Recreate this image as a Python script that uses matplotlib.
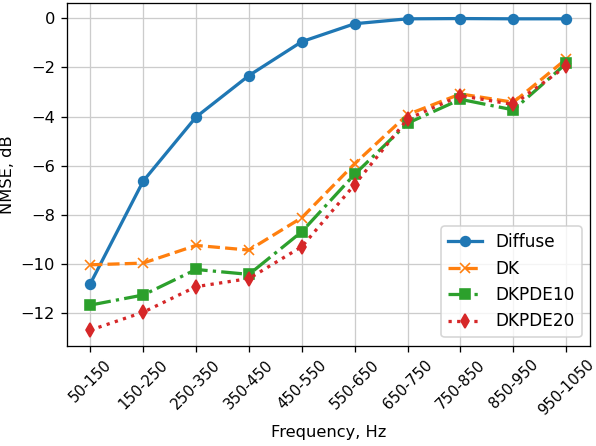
#!/usr/bin/env python3
import numpy as np
import matplotlib
matplotlib.use("Agg")
import matplotlib.pyplot as plt

bands = ["50-150", "150-250", "250-350", "350-450", "450-550",
         "550-650", "650-750", "750-850", "850-950", "950-1050"]

diffuse = [-10.81, -6.63, -4.02, -2.33, -0.95, -0.22, -0.02, -0.01, -0.02, -0.02]
dk = [-10.04, -9.97, -9.25, -9.44, -8.12, -5.92, -3.92, -3.08, -3.42, -1.66]
dkpde10 = [-11.68, -11.27, -10.23, -10.43, -8.69, -6.35, -4.27, -3.30, -3.73, -1.84]
dkpde20 = [-12.70, -11.97, -10.93, -10.60, -9.30, -6.77, -4.10, -3.15, -3.51, -1.95]

x = np.arange(len(bands))

# original looks like a default-styled figure rendered at ~117 dpi
DPI = 117
fig = plt.figure(figsize=(596 / DPI, 446 / DPI), dpi=DPI)
ax = fig.add_axes([0.1116, 0.2249, 0.8784, 0.7684])

ax.plot(x, diffuse, color="C0", linestyle="-", marker="o", linewidth=2, label="Diffuse")
ax.plot(x, dk, color="C1", linestyle="--", marker="x", linewidth=2, label="DK")
ax.plot(x, dkpde10, color="C2", linestyle="-.", marker="s", linewidth=2, label="DKPDE10")
ax.plot(x, dkpde20, color="C3", linestyle=":", marker="d", linewidth=2, label="DKPDE20")

ax.set_xticks(x)
ax.set_xticklabels(bands, rotation=45)
ax.tick_params(axis="x", labelsize=9.2)
ax.set_xlabel("Frequency, Hz")
ax.set_ylabel("NMSE, dB")
ax.yaxis.set_label_coords(-0.099, 0.5)
ax.grid(True, color="#cccccc")
ax.legend(loc="lower right", fontsize=10.4)

fig.savefig("out.png", dpi=DPI)
